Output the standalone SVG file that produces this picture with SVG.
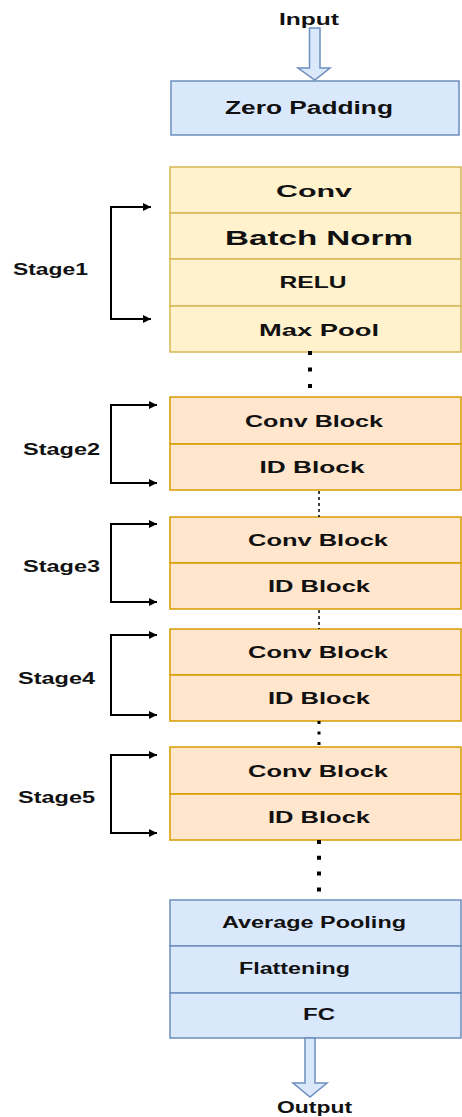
<svg xmlns="http://www.w3.org/2000/svg" width="462" height="1117" viewBox="0 0 462 1117">
<style>
  text { font-family: "Liberation Sans", Arial, sans-serif; font-weight: bold; fill: #111; text-anchor: middle; }
  .blue { fill: #dae8fc; stroke: #6c8ebf; stroke-width: 1.5; }
  .yel { fill: #fff2cc; stroke: #d6b656; stroke-width: 1.5; }
  .org { fill: #ffe6cc; stroke: #d79b00; stroke-width: 1.5; }
  .br { fill: none; stroke: #000; stroke-width: 2; }
  .lbl { text-anchor: start; }
</style>
<defs>
  <marker id="ah" viewBox="0 0 10 10" refX="10" refY="5" markerWidth="12" markerHeight="8" markerUnits="userSpaceOnUse" orient="auto">
    <path d="M0,0 L10,5 L0,10 Z" fill="#000"/>
  </marker>
</defs>

<g id="input">
  <text x="309" y="25" font-size="16" textLength="60" lengthAdjust="spacingAndGlyphs">Input</text>
</g>

<g id="zero-padding">
  <rect class="blue" x="171" y="81" width="288" height="54"/>
  <text x="309" y="114" font-size="18" textLength="168" lengthAdjust="spacingAndGlyphs">Zero Padding</text>
</g>

<g id="stage1-box">
  <rect class="yel" x="170" y="167" width="291" height="46"/>
  <rect class="yel" x="170" y="213" width="291" height="46"/>
  <rect class="yel" x="170" y="259" width="291" height="47"/>
  <rect class="yel" x="170" y="306" width="291" height="46"/>
  <text x="314" y="197" font-size="16.5" textLength="76" lengthAdjust="spacingAndGlyphs">Conv</text>
  <text x="319" y="245" font-size="21" textLength="188" lengthAdjust="spacingAndGlyphs">Batch Norm</text>
  <text x="313" y="288" font-size="16.5" textLength="67" lengthAdjust="spacingAndGlyphs">RELU</text>
  <text x="319" y="336" font-size="16.5" textLength="120" lengthAdjust="spacingAndGlyphs">Max Pool</text>
</g>

<g id="stage2-box">
  <rect class="org" x="170" y="397" width="291" height="47"/>
  <rect class="org" x="170" y="444" width="291" height="46"/>
  <text x="314" y="427" font-size="16.5" textLength="138" lengthAdjust="spacingAndGlyphs">Conv Block</text>
  <text x="312" y="473" font-size="16.5" textLength="105" lengthAdjust="spacingAndGlyphs">ID Block</text>
</g>

<g id="stage3-box">
  <rect class="org" x="170" y="517" width="291" height="46"/>
  <rect class="org" x="170" y="563" width="291" height="46"/>
  <text x="318" y="546" font-size="16.5" textLength="140" lengthAdjust="spacingAndGlyphs">Conv Block</text>
  <text x="319" y="592" font-size="16.5" textLength="102" lengthAdjust="spacingAndGlyphs">ID Block</text>
</g>

<g id="stage4-box">
  <rect class="org" x="170" y="629" width="291" height="46"/>
  <rect class="org" x="170" y="675" width="291" height="46"/>
  <text x="318" y="658" font-size="16.5" textLength="140" lengthAdjust="spacingAndGlyphs">Conv Block</text>
  <text x="319" y="704" font-size="16.5" textLength="102" lengthAdjust="spacingAndGlyphs">ID Block</text>
</g>

<g id="stage5-box">
  <rect class="org" x="170" y="747" width="291" height="47"/>
  <rect class="org" x="170" y="794" width="291" height="46"/>
  <text x="318" y="777" font-size="16.5" textLength="140" lengthAdjust="spacingAndGlyphs">Conv Block</text>
  <text x="319" y="823" font-size="16.5" textLength="102" lengthAdjust="spacingAndGlyphs">ID Block</text>
</g>

<g id="head-box">
  <rect class="blue" x="170" y="900" width="291" height="46"/>
  <rect class="blue" x="170" y="946" width="291" height="47"/>
  <rect class="blue" x="170" y="993" width="291" height="45"/>
  <text x="314" y="928" font-size="16" textLength="184" lengthAdjust="spacingAndGlyphs">Average Pooling</text>
  <text x="294.5" y="974" font-size="16" textLength="111" lengthAdjust="spacingAndGlyphs">Flattening</text>
  <text x="319" y="1020" font-size="16" textLength="32" lengthAdjust="spacingAndGlyphs">FC</text>
</g>

<g id="output">
  <text x="314.5" y="1113" font-size="16" textLength="75" lengthAdjust="spacingAndGlyphs">Output</text>
</g>

<g id="stage-labels">
  <text class="lbl" x="13" y="275" font-size="16" textLength="75" lengthAdjust="spacingAndGlyphs">Stage1</text>
  <text class="lbl" x="23" y="455" font-size="16" textLength="77" lengthAdjust="spacingAndGlyphs">Stage2</text>
  <text class="lbl" x="23" y="572" font-size="16" textLength="77" lengthAdjust="spacingAndGlyphs">Stage3</text>
  <text class="lbl" x="18" y="684" font-size="16" textLength="77" lengthAdjust="spacingAndGlyphs">Stage4</text>
  <text class="lbl" x="18" y="803" font-size="16" textLength="77" lengthAdjust="spacingAndGlyphs">Stage5</text>
</g>

<g id="connectors">
  <!-- input / output block arrows -->
  <path class="blue" d="M309.5,28 L320,28 L320,68 L330,68 L314.75,80 L298,68 L309.5,68 Z"/>
  <path class="blue" d="M305,1038 L315,1038 L315,1083 L327,1083 L310,1097 L293,1083 L305,1083 Z"/>
  <!-- stage brackets -->
  <path class="br" d="M111,207 L111,319"/>
  <path class="br" d="M110,207 L151,207" marker-end="url(#ah)"/>
  <path class="br" d="M110,319 L151,319" marker-end="url(#ah)"/>
  <path class="br" d="M111,405 L111,483"/>
  <path class="br" d="M110,405 L157,405" marker-end="url(#ah)"/>
  <path class="br" d="M110,483 L157,483" marker-end="url(#ah)"/>
  <path class="br" d="M111,524 L111,602"/>
  <path class="br" d="M110,524 L157,524" marker-end="url(#ah)"/>
  <path class="br" d="M110,602 L157,602" marker-end="url(#ah)"/>
  <path class="br" d="M111,635 L111,715"/>
  <path class="br" d="M110,635 L157,635" marker-end="url(#ah)"/>
  <path class="br" d="M110,715 L157,715" marker-end="url(#ah)"/>
  <path class="br" d="M111,755 L111,833"/>
  <path class="br" d="M110,755 L157,755" marker-end="url(#ah)"/>
  <path class="br" d="M110,833 L157,833" marker-end="url(#ah)"/>
  <!-- dotted links between blocks -->
  <line x1="310" y1="351" x2="310" y2="397" stroke="#000" stroke-width="4" stroke-dasharray="4 12.5"/>
  <line x1="319" y1="491" x2="319" y2="517" stroke="#000" stroke-width="1.5" stroke-dasharray="3 3"/>
  <line x1="319" y1="610" x2="319" y2="629" stroke="#000" stroke-width="1.5" stroke-dasharray="3 3"/>
  <line x1="319" y1="721" x2="319" y2="747" stroke="#000" stroke-width="3" stroke-dasharray="3 7.5"/>
  <line x1="319" y1="840" x2="319" y2="900" stroke="#000" stroke-width="4" stroke-dasharray="4 11.8"/>
</g>
</svg>
